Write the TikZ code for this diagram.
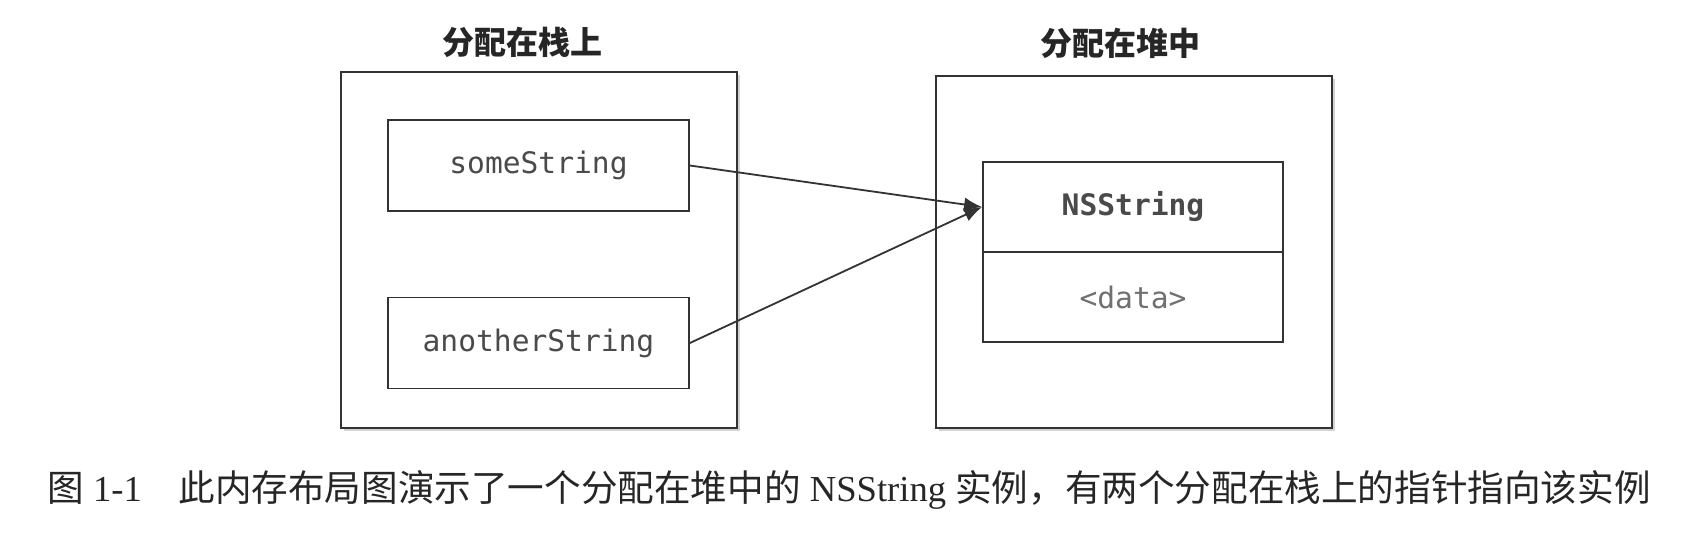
\documentclass[tikz,border=0pt]{standalone}
\usepackage{fontspec}
\usepackage{xcolor}
\setmainfont{Liberation Serif}
\setmonofont{DejaVu Sans Mono}
\newfontfamily\cjk{Noto Sans CJK SC}
\usetikzlibrary{positioning, arrows.meta, shadows}
\definecolor{linegray}{HTML}{333333}
\definecolor{textgray}{HTML}{4A4A4A}
\definecolor{datagray}{HTML}{707070}
\tikzstyle{every node}=[font=\ttfamily\fontsize{14.8}{17}\selectfont, text=textgray]
\tikzstyle{frame} = [rectangle, draw=linegray, line width=0.9pt, fill=white, minimum width=198pt, minimum height=178pt, drop shadow={shadow xshift=1.5pt, shadow yshift=-1.5pt, opacity=0.35}]
\tikzstyle{cell} = [rectangle, draw=linegray, line width=0.9pt, fill=white, minimum width=150.5pt, minimum height=45.5pt]
\tikzstyle{title} = [font=\cjk\bfseries\fontsize{16}{18}\selectfont, text=black!85]
\tikzstyle{line} = [draw=linegray, line width=0.9pt, -{Latex[length=9pt, width=7pt]}]

\begin{document}
\begin{tikzpicture}[x=0.5pt,y=-0.5pt]
    \useasboundingbox (0,0) rectangle (1688,538);
    % Place frames
    \node [frame] (stack) at (539,250) {};
    \node [frame, minimum height=176pt] (heap) at (1134,252) {};
    \node [title] (stacktitle) at (522,42) {分配在栈上};
    \node [title] (heaptitle) at (1120,43) {分配在堆中};
    % Place cells
    \node [cell] (some) at (538.5,165.5) {someString};
    \node [cell] (another) at (538.5,343) {anotherString};
    \node [cell, minimum width=150pt, minimum height=45pt] (nsname) at (1133,207) {\bfseries NSString};
    \node [cell, minimum width=150pt, minimum height=45pt, below=-0.9pt of nsname, text=datagray] (nsdata) {<data>};
    % Draw edges
    \path [line] (some.east) -- (nsname.west);
    \path [line] (another.east) -- (nsname.west);
    % Caption
    \node [anchor=west, inner sep=0pt, font=\rmfamily\fontsize{18.3}{20}\selectfont, text=black!85] (caption) at (47,490)
        {{\cjk 图} 1-1\hspace{1em}{\cjk 此内存布局图演示了一个分配在堆中的} NSString {\cjk 实例，有两个分配在栈上的指针指向该实例}};
\end{tikzpicture}
\end{document}
